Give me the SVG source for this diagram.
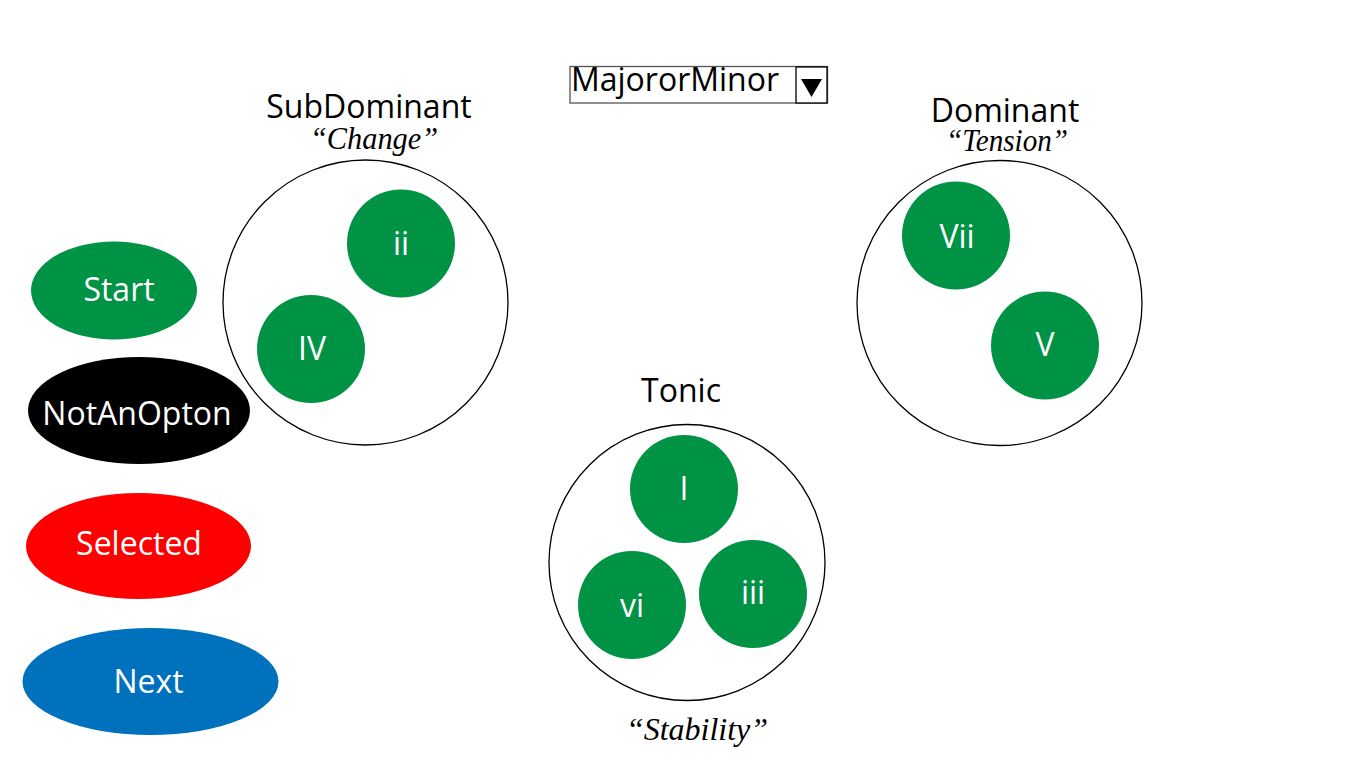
<svg xmlns="http://www.w3.org/2000/svg" width="1366" height="768" viewBox="0 0 1366 768">
<style>
.lbl{font-family:"Open Sans","Liberation Sans",sans-serif;font-size:32px;fill:#000;text-anchor:middle}
.wt{font-family:"Open Sans","Liberation Sans",sans-serif;font-size:32px;fill:#fff;text-anchor:middle}
.it{font-family:"Liberation Serif",serif;font-style:italic;font-size:31px;fill:#000;text-anchor:middle}
.grp{fill:#fff;stroke:#000;stroke-width:1.3}
.ch{fill:#009245}
</style>
<rect width="1366" height="768" fill="#fff"/>
<g id="selector">
<rect x="570" y="66.5" width="257.5" height="36.5" fill="#fff" stroke="#555" stroke-width="1.3"/>
<rect x="796" y="67" width="31" height="36" fill="#fff" stroke="#000" stroke-width="1.3"/>
<polygon points="801,79 822,79 811.5,97" fill="#000"/>
<text x="675" y="91" class="lbl" font-size="31.5">MajororMinor</text>
</g>
<g id="subdominant">
<circle cx="365.5" cy="302.5" r="142.5" class="grp"/>
<text x="369" y="118" class="lbl">SubDominant</text>
<text x="374" y="148.5" class="it" textLength="128" lengthAdjust="spacingAndGlyphs">“Change”</text>
</g>
<g id="dominant">
<circle cx="999.5" cy="303" r="142.5" class="grp"/>
<text x="1005" y="121.5" class="lbl">Dominant</text>
<text x="1007" y="150.5" class="it" textLength="122" lengthAdjust="spacingAndGlyphs">“Tension”</text>
</g>
<g id="tonic">
<circle cx="687" cy="562.5" r="138" class="grp"/>
<text x="681" y="401.5" class="lbl">Tonic</text>
<text x="697" y="740" class="it" textLength="142" lengthAdjust="spacingAndGlyphs">“Stability”</text>
</g>
<g id="ii"><circle cx="401" cy="243.5" r="54" class="ch"/><text x="401" y="255" class="wt">ii</text></g>
<g id="IV"><circle cx="311" cy="349" r="54" class="ch"/><text x="312" y="360" class="wt">IV</text></g>
<g id="Vii"><circle cx="956" cy="235.5" r="54" class="ch"/><text x="957" y="248" class="wt">Vii</text></g>
<g id="V"><circle cx="1045" cy="345.5" r="54" class="ch"/><text x="1045" y="356" class="wt">V</text></g>
<g id="I"><circle cx="684" cy="489" r="54" class="ch"/><text x="684" y="500" class="wt">I</text></g>
<g id="vi"><circle cx="632" cy="605" r="54" class="ch"/><text x="632" y="617" class="wt">vi</text></g>
<g id="iii"><circle cx="753" cy="594" r="54" class="ch"/><text x="753" y="604" class="wt">iii</text></g>
<g id="start"><ellipse cx="114" cy="290.5" rx="83" ry="49" fill="#009245"/><text x="119" y="301" class="wt">Start</text></g>
<g id="notanopton"><ellipse cx="139" cy="410.5" rx="111" ry="53.5" fill="#000"/><text x="137" y="425" class="wt">NotAnOpton</text></g>
<g id="selected"><ellipse cx="138.5" cy="546" rx="112.5" ry="53" fill="#ff0000"/><text x="139" y="555" class="wt">Selected</text></g>
<g id="next"><ellipse cx="150.5" cy="681.5" rx="128" ry="53.5" fill="#0071bc"/><text x="148.5" y="693" class="wt">Next</text></g>
<g id="connectors"></g>
</svg>
